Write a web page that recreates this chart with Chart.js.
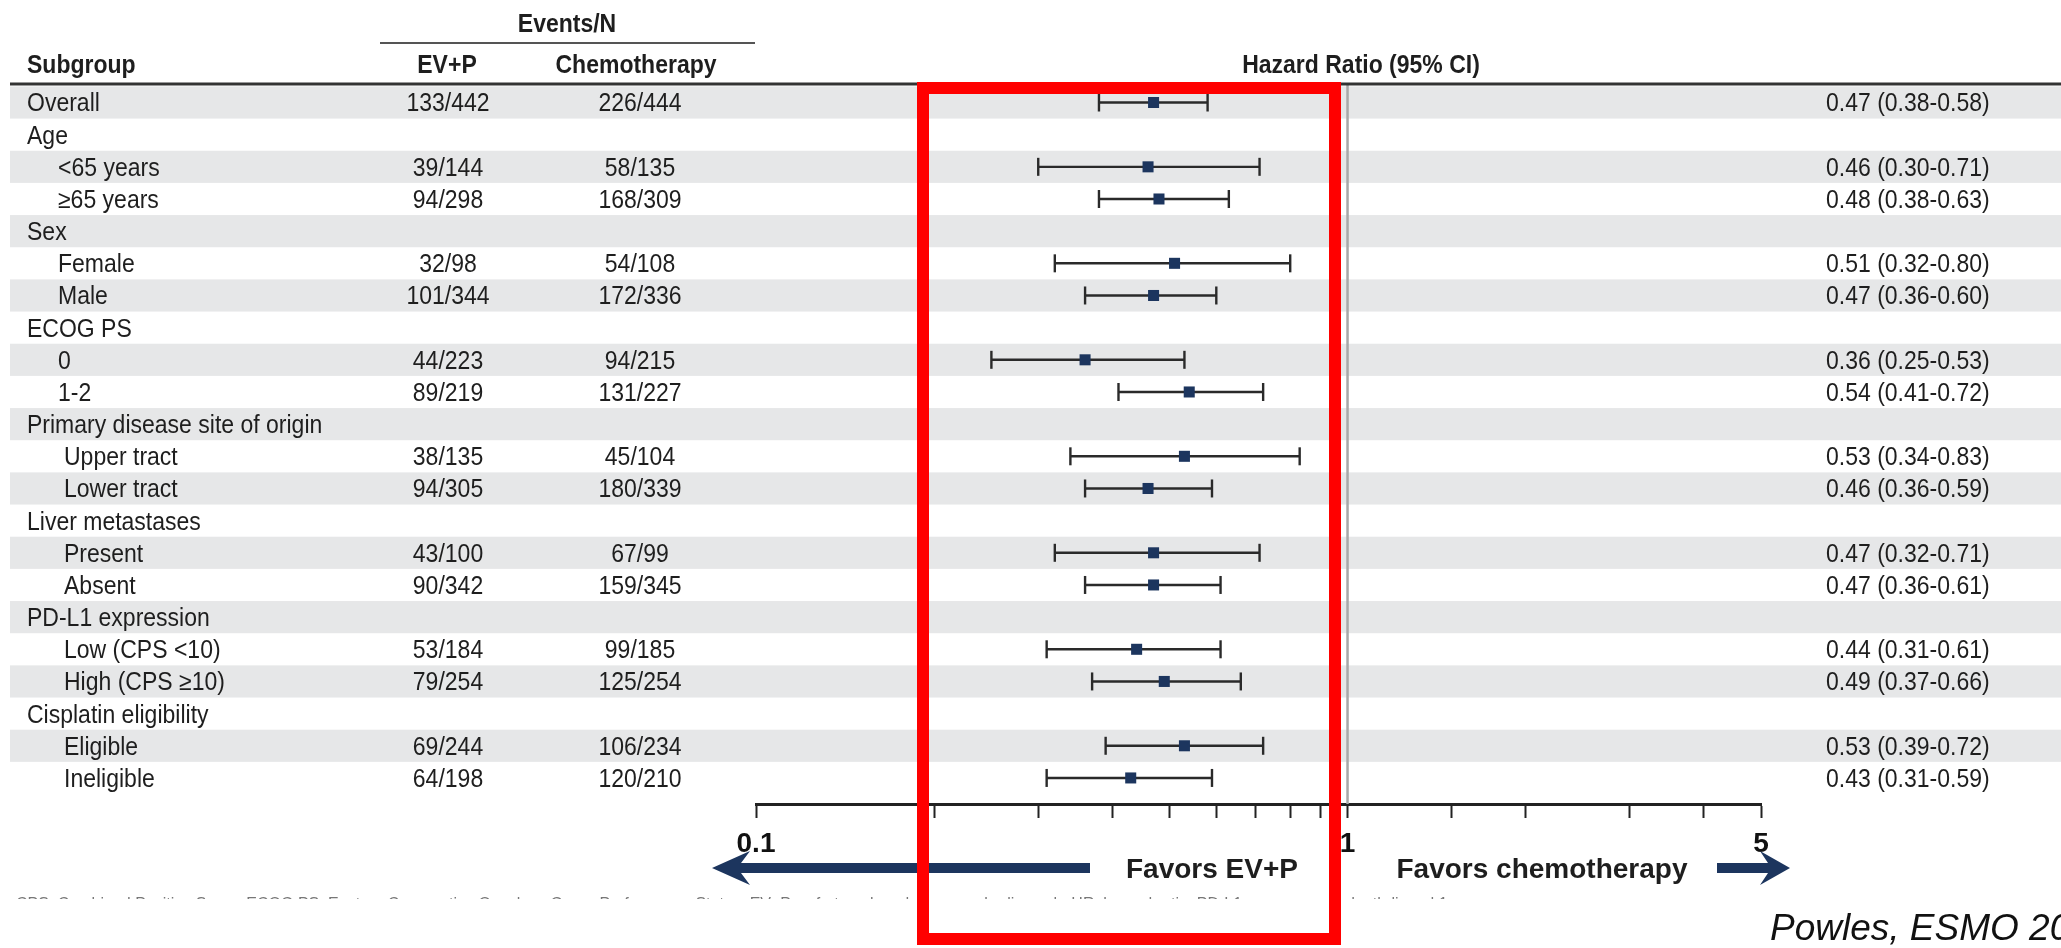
<!DOCTYPE html>
<html>
<head>
<meta charset="utf-8">
<script src="https://cdn.jsdelivr.net/npm/chart.js@4.4.1/dist/chart.umd.min.js"></script>
<style>
  html, body { margin: 0; padding: 0; background: #fff; }
  canvas { display: block; }
</style>
</head>
<body>
<canvas id="forestChart" width="2061" height="948"></canvas>
<script>
// Subgroups (top to bottom) and their level (0 = group header, 1/2 = sub-row)
const subgroups = ['Overall', 'Age', '<65 years', '\u226565 years', 'Sex', 'Female', 'Male',
    'ECOG PS', '0', '1-2', 'Primary disease site of origin', 'Upper tract', 'Lower tract',
    'Liver metastases', 'Present', 'Absent', 'PD-L1 expression', 'Low (CPS <10)',
    'High (CPS \u226510)', 'Cisplatin eligibility', 'Eligible', 'Ineligible'];
const levels = [0, 0, 1, 1, 0, 1, 1, 0, 1, 1, 0, 2, 2, 0, 2, 2, 0, 2, 2, 0, 2, 2];

// Events/N per arm
const evpEvents = ['133/442', '', '39/144', '94/298', '', '32/98', '101/344', '', '44/223', '89/219',
    '', '38/135', '94/305', '', '43/100', '90/342', '', '53/184', '79/254', '', '69/244', '64/198'];
const chemoEvents = ['226/444', '', '58/135', '168/309', '', '54/108', '172/336', '', '94/215', '131/227',
    '', '45/104', '180/339', '', '67/99', '159/345', '', '99/185', '125/254', '', '106/234', '120/210'];

// Hazard ratios with 95% CI
const hazardRatio = [0.47, null, 0.46, 0.48, null, 0.51, 0.47, null, 0.36, 0.54, null, 0.53, 0.46,
    null, 0.47, 0.47, null, 0.44, 0.49, null, 0.53, 0.43];
const ciLow = [0.38, null, 0.30, 0.38, null, 0.32, 0.36, null, 0.25, 0.41, null, 0.34, 0.36,
    null, 0.32, 0.36, null, 0.31, 0.37, null, 0.39, 0.31];
const ciHigh = [0.58, null, 0.71, 0.63, null, 0.80, 0.60, null, 0.53, 0.72, null, 0.83, 0.59,
    null, 0.71, 0.61, null, 0.61, 0.66, null, 0.72, 0.59];

// x axis (log scale)
const xMin = 0.1;
const xMax = 5;
const tickLabels = [0.1, 1, 5];

const FONT = "'Liberation Sans', Arial, sans-serif";
const NAVY = '#1c355e';
const INK = '#1e1e1e';
const NARROW = 0.92; // the slide text is slightly condensed

// datasets built from the arrays above
const markerPoints = [];
const capPoints = [];
const whiskerSets = [];
hazardRatio.forEach(function(v, i) {
    if (v === null) return;
    markerPoints.push({ x: v, y: i });
    capPoints.push({ x: ciLow[i], y: i }, { x: ciHigh[i], y: i });
    whiskerSets.push({
        data: [{ x: ciLow[i], y: i }, { x: ciHigh[i], y: i }],
        showLine: true,
        borderColor: '#2a2a2a',
        borderWidth: 2.4,
        pointRadius: 0,
        order: 3
    });
});

function textAt(ctx, str, x, y, font, align, color, sx) {
    ctx.save();
    ctx.font = font;
    ctx.fillStyle = color || INK;
    ctx.textAlign = align || 'left';
    ctx.textBaseline = 'alphabetic';
    ctx.translate(x, y);
    if (sx) ctx.scale(sx, 1);
    ctx.fillText(str, 0, 0);
    ctx.restore();
}

// gray bands + reference line at HR = 1
const backgroundPlugin = {
    id: 'forestBackground',
    beforeDraw: function(chart) {
        const ctx = chart.ctx;
        const y = chart.scales.y;
        ctx.save();
        ctx.fillStyle = '#ffffff';
        ctx.fillRect(0, 0, chart.width, chart.height);
        ctx.fillStyle = '#e6e7e8';
        subgroups.forEach(function(s, i) {
            if (i % 2 !== 0) return;
            const top = y.getPixelForValue(i - 0.5);
            const bottom = y.getPixelForValue(i + 0.5);
            ctx.fillRect(10, top, chart.width - 10, bottom - top);
        });
        ctx.restore();
    },
    beforeDatasetsDraw: function(chart) {
        const ctx = chart.ctx;
        const x = chart.scales.x;
        const area = chart.chartArea;
        const px = x.getPixelForValue(1);
        ctx.save();
        ctx.strokeStyle = '#a8a8a8';
        ctx.lineWidth = 2.5;
        ctx.beginPath();
        ctx.moveTo(px, area.top);
        ctx.lineTo(px, area.bottom);
        ctx.stroke();
        ctx.restore();
    }
};

// table text, header, arrows, annotations
const tablePlugin = {
    id: 'forestTable',
    afterDraw: function(chart) {
        const ctx = chart.ctx;
        const y = chart.scales.y;
        const W = chart.width;
        const reg = '25px ' + FONT;
        const bold = 'bold 25px ' + FONT;

        // header
        textAt(ctx, 'Events/N', 567, 32, bold, 'center', INK, NARROW);
        textAt(ctx, 'Subgroup', 27, 73, bold, 'left', INK, NARROW);
        textAt(ctx, 'EV+P', 447, 73, bold, 'center', INK, NARROW);
        textAt(ctx, 'Chemotherapy', 636, 73, bold, 'center', INK, NARROW);
        textAt(ctx, 'Hazard Ratio (95% CI)', 1361, 73, bold, 'center', INK, NARROW);

        ctx.save();
        ctx.strokeStyle = '#555';
        ctx.lineWidth = 2;
        ctx.beginPath();
        ctx.moveTo(380, 43);
        ctx.lineTo(755, 43);
        ctx.stroke();
        ctx.strokeStyle = '#333';
        ctx.lineWidth = 3;
        ctx.beginPath();
        ctx.moveTo(10, 84);
        ctx.lineTo(W, 84);
        ctx.stroke();
        ctx.restore();

        // rows
        const indents = [27, 58, 64];
        subgroups.forEach(function(label, i) {
            const base = y.getPixelForValue(i) + 9;
            textAt(ctx, label, indents[levels[i]], base, reg, 'left', INK, NARROW);
            if (evpEvents[i]) textAt(ctx, evpEvents[i], 448, base, reg, 'center', INK, NARROW);
            if (chemoEvents[i]) textAt(ctx, chemoEvents[i], 640, base, reg, 'center', INK, NARROW);
            if (hazardRatio[i] !== null) {
                const s = hazardRatio[i].toFixed(2) + ' (' + ciLow[i].toFixed(2) + '-' + ciHigh[i].toFixed(2) + ')';
                textAt(ctx, s, 1826, base, reg, 'left', INK, NARROW);
            }
        });

        // direction arrows
        ctx.save();
        ctx.fillStyle = NAVY;
        ctx.beginPath();
        ctx.moveTo(712, 868);
        ctx.lineTo(750, 851);
        ctx.lineTo(741, 863);
        ctx.lineTo(1090, 863);
        ctx.lineTo(1090, 873);
        ctx.lineTo(741, 873);
        ctx.lineTo(750, 885);
        ctx.closePath();
        ctx.fill();
        ctx.beginPath();
        ctx.moveTo(1717, 863);
        ctx.lineTo(1768, 863);
        ctx.lineTo(1760, 851);
        ctx.lineTo(1790, 868);
        ctx.lineTo(1760, 885);
        ctx.lineTo(1768, 873);
        ctx.lineTo(1717, 873);
        ctx.closePath();
        ctx.fill();
        ctx.restore();
        textAt(ctx, 'Favors EV+P', 1212, 878, 'bold 28px ' + FONT, 'center', INK);
        textAt(ctx, 'Favors chemotherapy', 1542, 878, 'bold 28px ' + FONT, 'center', INK);

        // footnote (cut off at the bottom of the slide area)
        ctx.save();
        ctx.beginPath();
        ctx.rect(0, 880, W, 19);
        ctx.clip();
        textAt(ctx, 'CPS, Combined Positive Score; ECOG PS, Eastern Cooperative Oncology Group Performance Status; EV+P, enfortumab vedotin + pembrolizumab; HR, hazard ratio; PD-L1, programmed death-ligand 1.',
            16, 909, '16px ' + FONT, 'left', '#777');
        ctx.restore();

        textAt(ctx, 'Powles, ESMO 2023', 1770, 940, 'italic 37px ' + FONT, 'left', '#111');

        // red highlight box
        ctx.save();
        ctx.strokeStyle = '#ff0000';
        ctx.lineWidth = 12;
        ctx.strokeRect(923, 88, 412, 851);
        ctx.restore();
    }
};

new Chart(document.getElementById('forestChart'), {
    type: 'scatter',
    data: {
        datasets: [{
            data: markerPoints,
            pointStyle: 'rect',
            pointRadius: 7.8,
            pointBackgroundColor: NAVY,
            pointBorderColor: NAVY,
            pointBorderWidth: 0,
            order: 1
        }, {
            data: capPoints,
            pointStyle: 'line',
            rotation: 90,
            pointRadius: 9,
            pointBorderColor: '#2a2a2a',
            pointBorderWidth: 2.4,
            order: 2
        }].concat(whiskerSets)
    },
    plugins: [backgroundPlugin, tablePlugin],
    options: {
        responsive: false,
        animation: false,
        events: [],
        layout: {
            padding: { left: 756, right: 300, top: 85, bottom: 0 }
        },
        plugins: {
            legend: { display: false },
            tooltip: { enabled: false }
        },
        scales: {
            x: {
                type: 'logarithmic',
                min: xMin,
                max: xMax,
                afterFit: function(scale) {
                    scale.height = 144;
                },
                grid: {
                    drawOnChartArea: false,
                    drawTicks: true,
                    tickLength: 14,
                    tickColor: '#222',
                    tickWidth: 2
                },
                border: {
                    display: true,
                    color: '#222',
                    width: 3
                },
                ticks: {
                    autoSkip: false,
                    maxRotation: 0,
                    padding: 9,
                    color: '#111',
                    font: { family: FONT, size: 28, weight: 'bold' },
                    callback: function(value) {
                        const hit = tickLabels.find(function(t) { return Math.abs(t - value) < 1e-9; });
                        return hit !== undefined ? String(hit) : '';
                    }
                }
            },
            y: {
                type: 'linear',
                display: false,
                reverse: true,
                min: -0.544,
                max: 21.81
            }
        }
    }
});
</script>
</body>
</html>
